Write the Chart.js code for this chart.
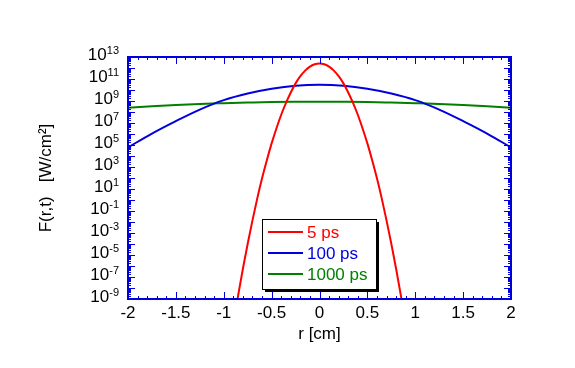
<!DOCTYPE html>
<html>
<head>
<meta charset="utf-8">
<script src="https://cdn.jsdelivr.net/npm/chart.js@4.4.1/dist/chart.umd.min.js"></script>
<style>
  body { margin: 0; background: #fff; }
  canvas { display: block; }
</style>
</head>
<body>
<canvas id="grafico" width="575" height="368"></canvas>
<script>
// radio r [cm] y flujo F(r,t) [W/cm2]
const r5 = [-0.9, -0.85, -0.8, -0.75, -0.7, -0.65, -0.6, -0.55, -0.5, -0.45, -0.4, -0.35, -0.3, -0.25, -0.2, -0.15, -0.1, -0.05,
  0, 0.05, 0.1, 0.15, 0.2, 0.25, 0.3, 0.35, 0.4, 0.45, 0.5, 0.55, 0.6, 0.65, 0.7, 0.75, 0.8, 0.85, 0.9];
const f5 = [5.6e-12, 2e-9, 5.6e-7, 1.05e-4, 1.4e-2, 1.4, 9.5e1, 4.2e3, 1.4e5, 3.2e6, 5.6e7, 6.8e8, 6.0e9, 4.0e10, 1.8e11, 5.8e11, 1.35e12, 2.2e12,
  2.6e12, 2.2e12, 1.35e12, 5.8e11, 1.8e11, 4.0e10, 6.0e9, 6.8e8, 5.6e7, 3.2e6, 1.4e5, 4.2e3, 9.5e1, 1.4, 1.4e-2, 1.05e-4, 5.6e-7, 2e-9, 5.6e-12];

const rLargo = [-2, -1.75, -1.5, -1.25, -1, -0.75, -0.5, -0.25, 0, 0.25, 0.5, 0.75, 1, 1.25, 1.5, 1.75, 2];
const f100 = [6.0e4, 1.1e6, 1.5e7, 1.66e8, 1.2e9, 4.8e9, 1.3e10, 2.45e10, 3.0e10, 2.45e10, 1.3e10, 4.8e9, 1.2e9, 1.66e8, 1.5e7, 1.1e6, 6.0e4];
const f1000 = [2.45e8, 3.3e8, 4.3e8, 5.4e8, 6.3e8, 7.2e8, 8.1e8, 8.5e8, 8.7e8, 8.5e8, 8.1e8, 7.2e8, 6.3e8, 5.4e8, 4.3e8, 3.3e8, 2.45e8];

const etiquetas = ['5 ps', '100 ps', '1000 ps'];
const colores = ['#ff0000', '#0000dd', '#008000'];
const xEtiquetas = ['-2', '-1.5', '-1', '-0.5', '0', '0.5', '1', '1.5', '2'];
const expEtiquetas = [-9, -7, -5, -3, -1, 1, 3, 5, 7, 9, 11, 13];

const azulEje = '#0000dd';
const fuente = '"Liberation Sans", Arial, sans-serif';

function puntos(xs, ys) {
  return xs.map((v, i) => ({ x: v, y: ys[i] }));
}

// ejes con marcas hacia dentro, etiquetas 10^n y leyenda en recuadro
const marco = {
  id: 'marco',
  afterDatasetsDraw(chart) {
    const { ctx, chartArea: a, scales: { x, y } } = chart;
    ctx.save();
    ctx.strokeStyle = azulEje;
    ctx.lineWidth = 1;
    const linea = (x1, y1, x2, y2) => {
      ctx.beginPath(); ctx.moveTo(x1, y1); ctx.lineTo(x2, y2); ctx.stroke();
    };
    for (let i = -20; i <= 20; i++) {
      const px = Math.round(x.getPixelForValue(i / 10)) + 0.5;
      const largo = i % 5 === 0 ? 7 : 3;
      linea(px, a.bottom, px, a.bottom - largo);
      linea(px, a.top, px, a.top + largo);
    }
    for (let e = -9; e <= 13; e++) {
      for (let m = 1; m <= 9; m++) {
        if (e === 13 && m > 1) break;
        const py = Math.round(y.getPixelForValue(m * Math.pow(10, e))) + 0.5;
        const largo = m === 1 ? 7 : 3;
        linea(a.left, py, a.left + largo, py);
        linea(a.right, py, a.right - largo, py);
      }
    }
    ctx.lineWidth = 2;
    ctx.strokeRect(a.left, a.top, a.right - a.left, a.bottom - a.top);

    // etiquetas del eje y
    ctx.fillStyle = '#000';
    ctx.textBaseline = 'middle';
    ctx.textAlign = 'right';
    expEtiquetas.forEach(e => {
      const py = y.getPixelForValue(Math.pow(10, e));
      ctx.font = '11px ' + fuente;
      const txt = String(e);
      const w = ctx.measureText(txt).width;
      ctx.fillText(txt, 119, py - 6);
      ctx.font = '17px ' + fuente;
      ctx.fillText('10', 119 - w, py - 2);
    });

    // leyenda
    const L = 262, T = 219, R = 376, B = 289;
    ctx.fillStyle = '#000';
    ctx.fillRect(L + 3, T + 3, R - L, B - T);
    ctx.fillStyle = '#fff';
    ctx.fillRect(L, T, R - L, B - T);
    ctx.strokeStyle = '#000';
    ctx.lineWidth = 1;
    ctx.strokeRect(L + 0.5, T + 0.5, R - L, B - T);
    ctx.font = '17px ' + fuente;
    ctx.textAlign = 'left';
    chart.data.datasets.forEach((ds, i) => {
      const fy = 232 + i * 21;
      ctx.strokeStyle = ds.borderColor;
      ctx.lineWidth = 2;
      linea(268, fy, 303, fy);
      ctx.fillStyle = ds.borderColor;
      ctx.fillText(ds.label, 307, fy + 1);
    });
    ctx.restore();
  }
};

const ctx = document.getElementById('grafico').getContext('2d');
new Chart(ctx, {
  type: 'line',
  data: {
    datasets: [
      { label: etiquetas[0], data: puntos(r5, f5), borderColor: colores[0] },
      { label: etiquetas[1], data: puntos(rLargo, f100), borderColor: colores[1] },
      { label: etiquetas[2], data: puntos(rLargo, f1000), borderColor: colores[2] }
    ]
  },
  options: {
    responsive: false,
    animation: false,
    devicePixelRatio: 1,
    layout: { padding: { left: 30, right: 64, top: 57, bottom: 23 } },
    elements: {
      point: { radius: 0 },
      line: { borderWidth: 2, cubicInterpolationMode: 'monotone', fill: false }
    },
    plugins: { legend: { display: false }, tooltip: { enabled: false } },
    scales: {
      x: {
        type: 'linear',
        min: -2,
        max: 2,
        grid: { display: false, drawTicks: false },
        border: { display: false },
        ticks: {
          stepSize: 0.5, color: '#000', padding: 4, font: { family: fuente, size: 17 },
          callback: (v, i) => xEtiquetas[i]
        },
        title: { display: true, text: 'r [cm]', color: '#000', padding: { top: 0, bottom: 0 }, font: { family: fuente, size: 17 } },
        afterFit: s => { s.height = 46; }
      },
      y: {
        type: 'logarithmic',
        min: 1e-9,
        max: 1e13,
        grid: { display: false, drawTicks: false },
        border: { display: false },
        ticks: { display: false },
        title: { display: true, text: 'F(r,t)   [W/cm²]', color: '#000', padding: { top: 6, bottom: 0 }, font: { family: fuente, size: 17 } },
        afterFit: s => { s.width = 98; }
      }
    }
  },
  plugins: [marco]
});
</script>
</body>
</html>
